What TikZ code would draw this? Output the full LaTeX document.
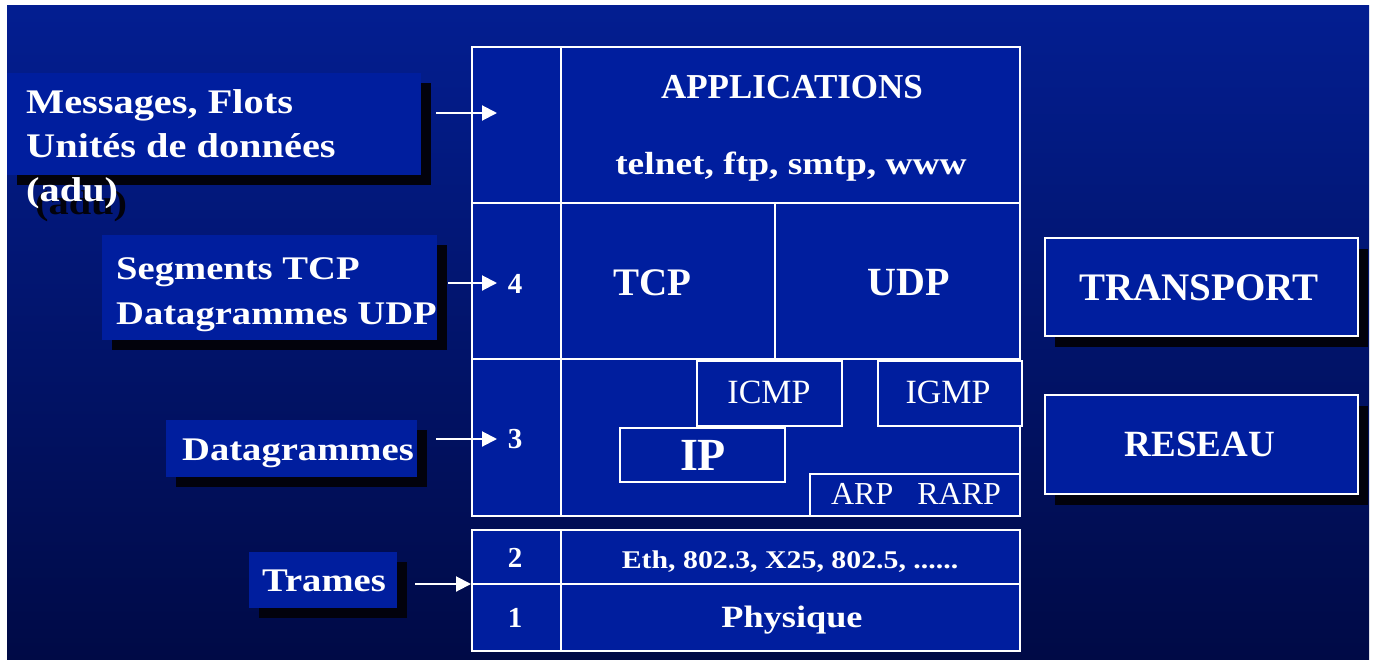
\documentclass[tikz,border=0pt]{standalone}
\usepackage{fontspec}
\setmainfont{Liberation Serif}[FakeStretch=1.17]
\newfontfamily\capsfont{Liberation Serif}
\usetikzlibrary{arrows.meta,shadows}
\definecolor{bgtop}{RGB}{3,30,145}
\definecolor{bgmid}{RGB}{0,22,112}
\definecolor{bgbot}{RGB}{0,10,70}
\definecolor{boxblue}{RGB}{0,30,158}
\definecolor{shadowc}{RGB}{2,2,12}
\begin{document}
\begin{tikzpicture}[x=1pt,y=-1pt,
  cell/.style={draw=white, line width=2.2pt, fill=boxblue, inner sep=0pt, anchor=north west},
  subbox/.style={draw=white, line width=1.6pt, fill=boxblue, inner sep=0pt, anchor=north west},
  lbox/.style={fill=boxblue, inner sep=0pt, anchor=north west,
    drop shadow={shadow xshift=10pt, shadow yshift=-10pt, opacity=1, fill=shadowc}},
  rbox/.style={draw=white, line width=2pt, fill=boxblue, inner sep=0pt, anchor=north west,
    drop shadow={shadow xshift=10pt, shadow yshift=-11pt, opacity=1, fill=shadowc}},
  ltxt/.style={text=white, inner sep=0pt, anchor=base west, font=\bfseries\fontsize{34.5}{42}\selectfont},
  ctxt/.style={text=white, inner sep=0pt, anchor=base},
  arr/.style={draw=white, line width=2pt, -{Triangle[length=15pt,width=15pt]}}
]
\useasboundingbox (0,0) rectangle (1375,659);
\fill[white] (0,0) rectangle (1375,659);
\shade[top color=bgtop, middle color=bgmid, bottom color=bgbot] (7,5) rectangle (1369,659);

% protocol stack
\node[cell, minimum width=89pt, minimum height=156pt] (appnum) at (471,46) {};
\node[cell, minimum width=459pt, minimum height=156pt] (app) at (560,46) {};
\node[cell, minimum width=89pt, minimum height=156pt] (n4) at (471,202) {};
\node[cell, minimum width=214pt, minimum height=156pt] (tcp) at (560,202) {};
\node[cell, minimum width=245pt, minimum height=156pt] (udp) at (774,202) {};
\node[cell, minimum width=89pt, minimum height=157pt] (n3) at (471,358) {};
\node[cell, minimum width=459pt, minimum height=157pt] (net) at (560,358) {};
\node[subbox, minimum width=145pt, minimum height=65pt] (icmp) at (696,360) {};
\node[subbox, minimum width=144pt, minimum height=65pt] (igmp) at (877,360) {};
\node[subbox, minimum width=165pt, minimum height=54pt] (ip) at (619,427) {};
\node[subbox, minimum width=210pt, minimum height=42pt] (arp) at (809,473) {};
\node[cell, minimum width=89pt, minimum height=54pt] (n2) at (471,529) {};
\node[cell, minimum width=459pt, minimum height=54pt] (l2) at (560,529) {};
\node[cell, minimum width=89pt, minimum height=67pt] (n1) at (471,583) {};
\node[cell, minimum width=459pt, minimum height=67pt] (phys) at (560,583) {};

% stack texts
\node[ctxt, font=\capsfont\bfseries\fontsize{35}{40}\selectfont] (tapp) at (792,98) {APPLICATIONS};
\node[ctxt, font=\bfseries\fontsize{32}{38}\selectfont] (tappl) at (791,174) {telnet, ftp, smtp, www};
\node[ctxt, font=\capsfont\bfseries\fontsize{39}{44}\selectfont] (ttcp) at (652,295) {TCP};
\node[ctxt, font=\capsfont\bfseries\fontsize{40}{44}\selectfont] (tudp) at (909,295) {UDP};
\node[ctxt, font=\capsfont\bfseries\fontsize{29}{36}\selectfont] (t4) at (515,293) {4};
\node[ctxt, font=\capsfont\bfseries\fontsize{29}{36}\selectfont] (t3) at (515,448) {3};
\node[ctxt, font=\capsfont\bfseries\fontsize{29}{36}\selectfont] (t2) at (515,567) {2};
\node[ctxt, font=\capsfont\bfseries\fontsize{29}{36}\selectfont] (t1) at (515,627) {1};
\node[ctxt, font=\capsfont\fontsize{34}{40}\selectfont] (ticmp) at (769,403) {ICMP};
\node[ctxt, font=\capsfont\fontsize{34}{40}\selectfont] (tigmp) at (948,403) {IGMP};
\node[ctxt, font=\capsfont\bfseries\fontsize{46}{50}\selectfont] (tip) at (703,470) {IP};
\node[ctxt, font=\capsfont\fontsize{32}{38}\selectfont] (tarp) at (916,504) {ARP\hspace{24pt}RARP};
\node[ctxt, font=\bfseries\fontsize{25.5}{30}\selectfont] (tl2) at (790,568) {Eth, 802.3, X25, 802.5, ......};
\node[ctxt, font=\bfseries\fontsize{31}{36}\selectfont] (tphys) at (792,627) {Physique};

% right boxes
\node[rbox, minimum width=313pt, minimum height=98pt] (transport) at (1044,237) {};
\node[rbox, minimum width=313pt, minimum height=99pt] (reseau) at (1044,394) {};
\node[ctxt, font=\capsfont\bfseries\fontsize{39}{44}\selectfont] (ttransport) at (1199,300) {TRANSPORT};
\node[ctxt, font=\capsfont\bfseries\fontsize{37}{42}\selectfont] (treseau) at (1200,456) {RESEAU};

% left label boxes
\node[lbox, minimum width=414pt, minimum height=102pt] (lab1) at (7,73) {};
\node[lbox, minimum width=335pt, minimum height=105pt] (lab2) at (102,235) {};
\node[lbox, minimum width=251pt, minimum height=57pt] (lab3) at (166,420) {};
\node[lbox, minimum width=148pt, minimum height=56pt] (lab4) at (249,552) {};

\node[ltxt, text=shadowc] (tadush) at (35,214) {(adu)};
\node[ltxt] (tmsg) at (26,113) {Messages, Flots};
\node[ltxt] (tunit) at (26,157) {Unités de données};
\node[ltxt] (tadu) at (26,201) {(adu)};
\node[ltxt, font=\bfseries\fontsize{33}{40}\selectfont] (tseg) at (116,279) {Segments TCP};
\node[ltxt, font=\bfseries\fontsize{33}{40}\selectfont] (tdgu) at (116,324) {Datagrammes UDP};
\node[ltxt, font=\bfseries\fontsize{33}{40}\selectfont] (tdg) at (182,460) {Datagrammes};
\node[ltxt, font=\bfseries\fontsize{33}{40}\selectfont] (ttr) at (262,591) {Trames};

% arrows
\coordinate (a1s) at (436,113); \coordinate (a1e) at (497,113);
\coordinate (a2s) at (448,283); \coordinate (a2e) at (497,283);
\coordinate (a3s) at (436,439); \coordinate (a3e) at (497,439);
\coordinate (a4s) at (415,584); \coordinate (a4e) at (471,584);
\draw[arr] (a1s) -- (a1e);
\draw[arr] (a2s) -- (a2e);
\draw[arr] (a3s) -- (a3e);
\draw[arr] (a4s) -- (a4e);
\end{tikzpicture}
\end{document}
